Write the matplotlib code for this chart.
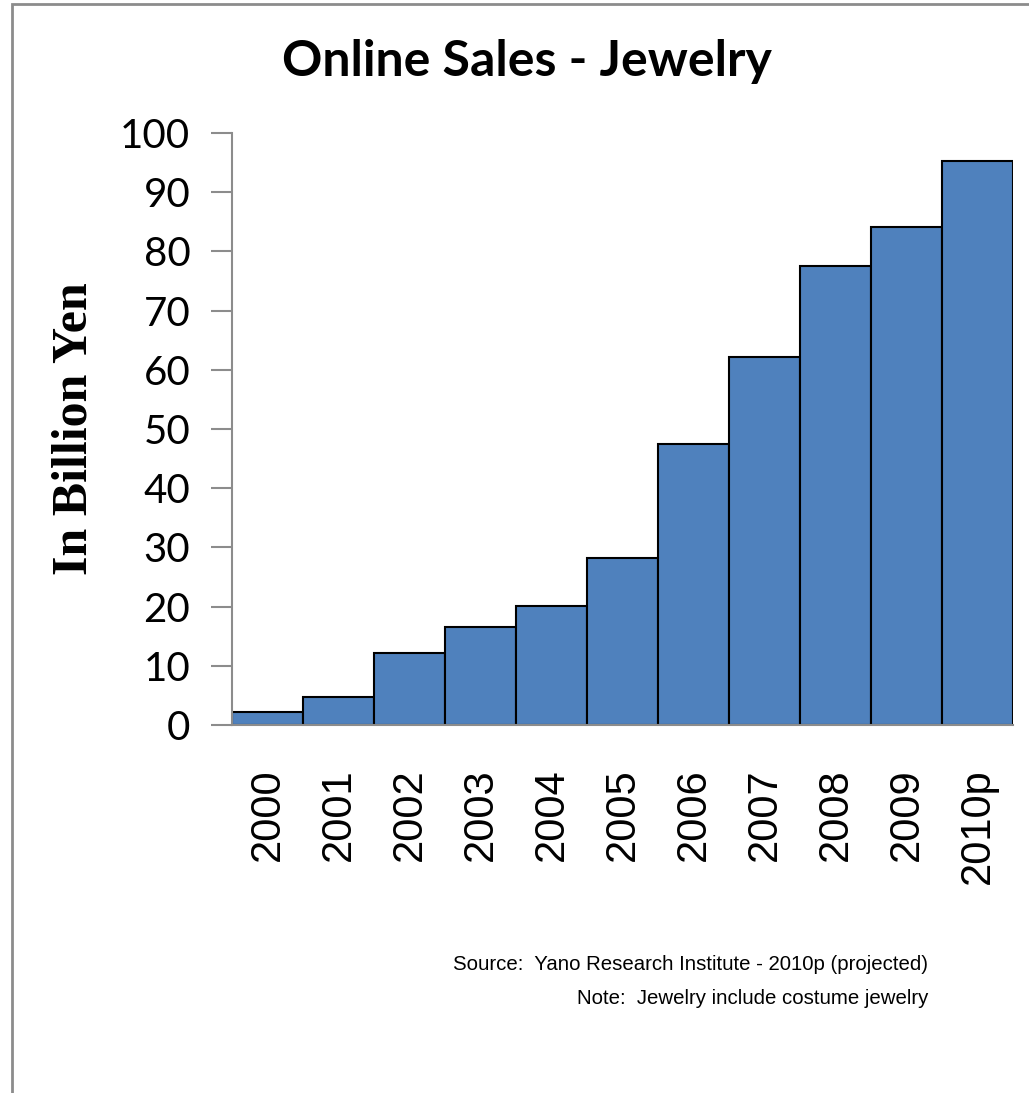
import matplotlib
matplotlib.use("Agg")
import matplotlib.pyplot as plt
from matplotlib.patches import Rectangle

# data
years = ["2000", "2001", "2002", "2003", "2004", "2005",
         "2006", "2007", "2008", "2009", "2010p"]
sales = [2.2, 4.7, 12.2, 16.6, 20.1, 28.2, 47.5, 62.2, 77.5, 84.1, 95.3]
yticks = [0, 10, 20, 30, 40, 50, 60, 70, 80, 90, 100]

W, H = 1029, 1093
fig = plt.figure(figsize=(W / 100, H / 100), dpi=100)

# page frame (gray line on left and top)
fig.patches.append(Rectangle((12 / W, -0.1), 1.2, 1 - 4 / H + 0.1,
                             transform=fig.transFigure, fill=False,
                             edgecolor="#8c8c8c", linewidth=2))

ax = fig.add_axes([232 / W, 1 - 725 / H, (1013 - 232) / W, (725 - 133) / H])
x = list(range(len(years)))
ax.bar(x, sales, width=1.0, color="#4F81BD", edgecolor="black", linewidth=1.5)

ax.set_xlim(-0.5, len(years) - 0.5)
ax.set_ylim(0, 100)
ax.set_yticks(yticks)
ax.set_yticklabels([str(v) for v in yticks], family="Lato", fontsize=29)
ax.set_xticks(x)
ax.set_xticklabels(years, rotation=90, family="Liberation Sans", fontsize=30,
                   va="top")

for s in ["top", "right"]:
    ax.spines[s].set_visible(False)
for s in ["left", "bottom"]:
    ax.spines[s].set_color("#8c8c8c")
    ax.spines[s].set_linewidth(1.5)
ax.tick_params(axis="y", length=15, width=1.5, color="#8c8c8c", pad=15)
ax.tick_params(axis="x", length=0, pad=31)

ax.set_ylabel("In Billion Yen", family="Liberation Serif", fontweight="bold",
              fontsize=36, labelpad=16)

fig.text(527 / W, 1 - 61 / H, "Online Sales - Jewelry", ha="center",
         va="center", family="Lato", fontweight="bold", fontsize=36)

fig.text(928 / W, 1 - 965 / H, "Source:  Yano Research Institute - 2010p (projected)",
         ha="right", va="center", family="Liberation Sans", fontsize=14.7)
fig.text(928 / W, 1 - 998 / H, "Note:  Jewelry include costume jewelry",
         ha="right", va="center", family="Liberation Sans", fontsize=14.7)

fig.savefig("out.png", dpi=100)
